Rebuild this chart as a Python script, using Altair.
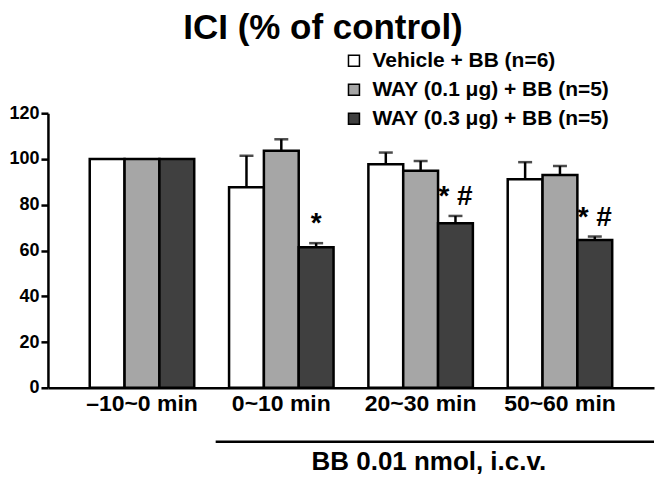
import altair as alt
import pandas as pd

groups = ["–10~0 min", "0~10 min", "20~30 min", "50~60 min"]
series = ["Vehicle + BB (n=6)", "WAY (0.1 μg) + BB (n=5)", "WAY (0.3 μg) + BB (n=5)"]
colors = ["#ffffff", "#a6a6a6", "#404040"]

vehicle = [100, 87.6, 97.7, 91.1]
way01 = [100, 103.6, 94.9, 93.0]
way03 = [100, 61.4, 71.9, 64.6]
vehicle_err = [0, 13.8, 5.1, 7.5]
way01_err = [0, 5.0, 4.2, 3.9]
way03_err = [0, 1.8, 3.2, 1.5]
sig_vehicle = ["", "", "", ""]
sig_way01 = ["", "", "", ""]
sig_way03 = ["", "*", "* #", "* #"]

rows = []
for s, vals, errs, sigs in [
    (series[0], vehicle, vehicle_err, sig_vehicle),
    (series[1], way01, way01_err, sig_way01),
    (series[2], way03, way03_err, sig_way03),
]:
    for g, v, e, sg in zip(groups, vals, errs, sigs):
        rows.append({"group": g, "series": s, "value": v, "err": e,
                     "upper": v + e, "sig": sg})
df = pd.DataFrame(rows)

FONT = "Liberation Sans"

base = alt.Chart(df).encode(
    x=alt.X("group:N", sort=groups,
            scale=alt.Scale(paddingInner=0.25, paddingOuter=0.3),
            axis=alt.Axis(title="BB 0.01 nmol, i.c.v.", labelAngle=0,
                          labelFontSize=23, labelFontWeight="bold",
                          labelFont=FONT, labelColor="black", labelPadding=5,
                          ticks=False, domainColor="black", domainWidth=2.5,
                          titleFontSize=26, titleFontWeight="bold",
                          titleFont=FONT, titleColor="black",
                          titleX=381, titleY=82, titleAlign="center",
                          titleBaseline="alphabetic")),
    xOffset=alt.XOffset("series:N", sort=series,
                        scale=alt.Scale(paddingInner=0, paddingOuter=0)),
)

yenc = alt.Y("value:Q", scale=alt.Scale(domain=[0, 120]),
             axis=alt.Axis(title=None, values=[0, 20, 40, 60, 80, 100, 120],
                           grid=False, labelFontSize=18, labelFontWeight="bold",
                           labelFont=FONT, labelColor="black", labelPadding=2,
                           tickSize=7, tickWidth=2.5, tickColor="black",
                           domainColor="black", domainWidth=2.5))

bars = base.mark_bar(stroke="black", strokeWidth=2.5).encode(
    y=yenc,
    fill=alt.Fill("series:N", sort=series,
                  scale=alt.Scale(domain=series, range=colors),
                  legend=alt.Legend(title=None, orient="none", legendX=296,
                                    legendY=-63, padding=0, rowPadding=7,
                                    labelFontSize=21, labelFontWeight="bold",
                                    labelFont=FONT, labelColor="black",
                                    symbolType="square", symbolSize=121,
                                    symbolStrokeColor="black",
                                    symbolStrokeWidth=1.5, labelOffset=8,
                                    labelLimit=400)),
)

err = base.transform_filter("datum.err > 0").mark_rule(
    color="black", strokeWidth=2.5).encode(y="value:Q", y2="upper:Q")

caps = base.transform_filter("datum.err > 0").mark_tick(
    color="black", thickness=2.5, size=14).encode(y="upper:Q")

sig = base.transform_filter("datum.sig != ''").mark_text(
    fontSize=28, fontWeight="bold", font=FONT, color="black",
    baseline="alphabetic", dy=-11).encode(y="upper:Q", text="sig:N")

line = alt.Chart(pd.DataFrame({"a": [0]})).mark_rule(
    color="black", strokeWidth=2.5).encode(
    x=alt.value(168), x2=alt.value(607), y=alt.value(329))

chart = alt.layer(bars, err, caps, sig, line).properties(
    width=607, height=275,
    title=alt.TitleParams("ICI (% of control)", fontSize=35, fontWeight="bold",
                          font=FONT, color="black", offset=4, dx=-28),
    padding={"left": 0, "top": 3, "right": 0, "bottom": 0},
).configure_view(stroke=None)

chart.save("out.html", embed_options={"renderer": "svg", "actions": False})
